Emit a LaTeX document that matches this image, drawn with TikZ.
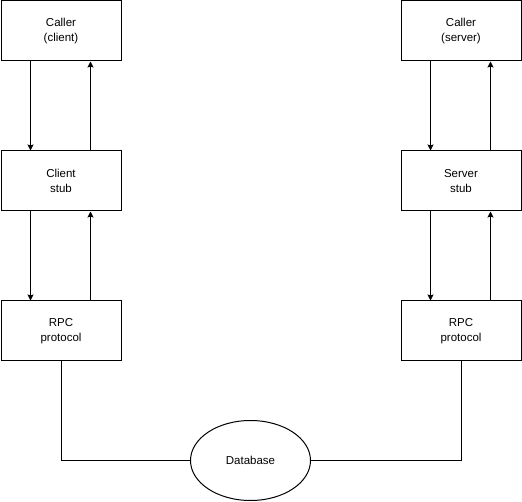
\documentclass[tikz,border=0pt]{standalone}
\usepackage{fontspec}
\setmainfont{Liberation Sans}
\usetikzlibrary{shapes.geometric,arrows.meta}
\begin{document}
\begin{tikzpicture}[x=1pt,y=-1pt,
  box/.style={draw,line width=1pt,minimum width=120pt,minimum height=60pt,inner sep=0pt,align=center,font=\fontsize{11.5pt}{15pt}\selectfont,anchor=north west},
  db/.style={draw,ellipse,line width=1pt,minimum width=120pt,minimum height=80pt,inner sep=0pt,font=\fontsize{11.5pt}{15pt}\selectfont},
  arr/.style={line width=1pt,-{Stealth[length=6pt,width=6pt,inset=1pt]}},
  wire/.style={line width=1pt}]
\useasboundingbox (0,0) rectangle (522,502);
\node[box] (cc) at (0.5,0.5) {Caller\\(client)};
\node[box] (cs) at (0.5,150.5) {Client\\stub};
\node[box] (rl) at (0.5,300.5) {RPC\\protocol};
\node[box] (sc) at (400.5,0.5) {Caller\\(server)};
\node[box] (ss) at (400.5,150.5) {Server\\stub};
\node[box] (rr) at (400.5,300.5) {RPC\\protocol};
\node[db] (db) at (250.5,460.5) {Database};
\draw[arr] ([xshift=30pt]cc.south west) -- ([xshift=30pt]cs.north west);
\draw[arr] ([xshift=90pt]cs.north west) -- ([xshift=90pt]cc.south west);
\draw[arr] ([xshift=30pt]cs.south west) -- ([xshift=30pt]rl.north west);
\draw[arr] ([xshift=90pt]rl.north west) -- ([xshift=90pt]cs.south west);
\draw[arr] ([xshift=30pt]sc.south west) -- ([xshift=30pt]ss.north west);
\draw[arr] ([xshift=90pt]ss.north west) -- ([xshift=90pt]sc.south west);
\draw[arr] ([xshift=30pt]ss.south west) -- ([xshift=30pt]rr.north west);
\draw[arr] ([xshift=90pt]rr.north west) -- ([xshift=90pt]ss.south west);
\draw[wire] (rl.south) |- (db.west);
\draw[wire] (rr.south) |- (db.east);
\end{tikzpicture}
\end{document}
